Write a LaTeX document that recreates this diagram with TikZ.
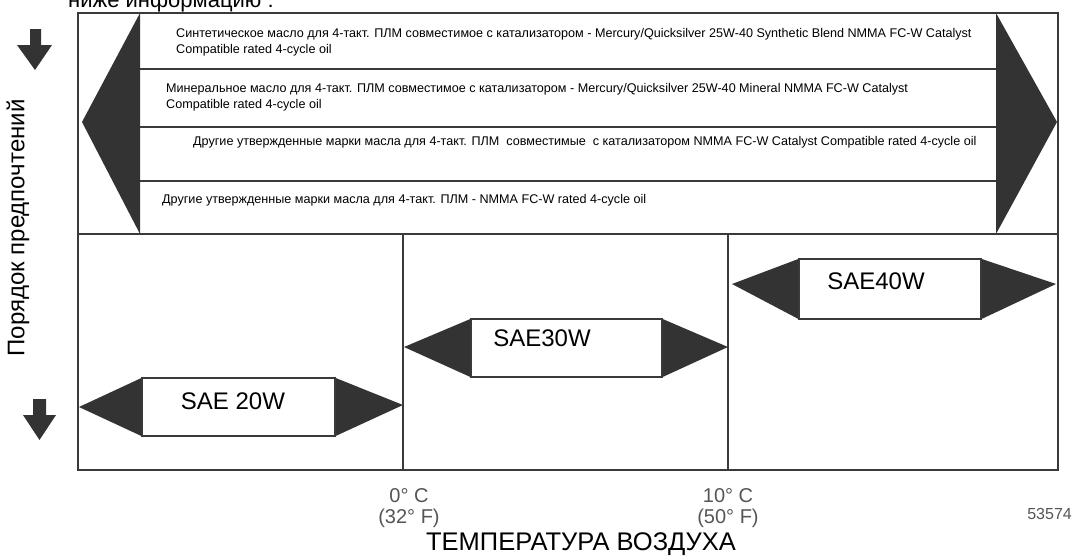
\documentclass[tikz,border=0pt]{standalone}
\usepackage{fontspec}
\setmainfont{Liberation Sans}
\usetikzlibrary{positioning}
\definecolor{inkgray}{HTML}{333333}
\definecolor{linegray}{HTML}{3A3A3A}
\definecolor{labelgray}{HTML}{555555}
\tikzset{
  frame/.style={draw=linegray, line width=2.4pt},
  rowline/.style={draw=linegray, line width=1.8pt},
  headfill/.style={fill=inkgray},
  saearea/.style={rectangle, inner sep=0pt},
  saeedge/.style={draw=linegray, line width=1.6pt, fill=white},
  saelabel/.style={font=\fontsize{24}{28}\selectfont, inner sep=0pt},
  oiltext/.style={font=\fontsize{12.6}{16}\selectfont, align=left, anchor=west, inner sep=0pt},
  templabel/.style={font=\fontsize{20}{21}\selectfont, text=labelgray, align=center, inner sep=0pt},
  axislabel/.style={font=\fontsize{24}{28}\selectfont, inner sep=0pt},
}

\begin{document}
\begin{tikzpicture}[x=1pt, y=-1pt]
\fill[white] (0,0) rectangle (1074,557);
\useasboundingbox (0,0) rectangle (1074,557);

%Heads
\fill[headfill] (140,13) -- (82,122) -- (140,234) -- cycle;
\fill[headfill] (996,13) -- (1057,122) -- (996,234) -- cycle;

%Lines
\foreach \y in {69,127,181}
  \draw[rowline] (140,\y) -- (996,\y);
\draw[frame] (78,13) rectangle (1058,470);
\draw[frame] (78,234) -- (1058,234);
\draw[rowline] (403,234) -- (403,470);
\draw[rowline] (728,234) -- (728,470);

%Oil grades
\node[oiltext] (synth) at (176,42.5) {Синтетическое масло для 4-такт. ПЛМ совместимое с катализатором - Mercury/Quicksilver 25W-40 Synthetic Blend NMMA FC-W Catalyst\\Compatible rated 4-cycle oil};
\node[oiltext] (mineral) at (166,97.5) {Минеральное масло для 4-такт. ПЛМ совместимое с катализатором - Mercury/Quicksilver 25W-40 Mineral NMMA FC-W Catalyst\\Compatible rated 4-cycle oil};
\node[oiltext] (othercat) at (193,142) {Другие утвержденные марки масла для 4-такт. ПЛМ\ \ совместимые\ \ с катализатором NMMA FC-W Catalyst Compatible rated 4-cycle oil};
\node[oiltext] (other) at (162,200) {Другие утвержденные марки масла для 4-такт. ПЛМ - NMMA FC-W rated 4-cycle oil};

%SAE 20W
\node[saearea, minimum width=193, minimum height=58] (sae20) at (238.5,407) {};
\fill[headfill] (79,407) -- (sae20.north west) -- (sae20.north east) -- (403,405)
  -- (sae20.south east) -- (sae20.south west) -- cycle;
\draw[saeedge] (sae20.north west) rectangle (sae20.south east);
\node[saelabel] (sae20txt) at (233,401) {SAE 20W};

%SAE30W
\node[saearea, minimum width=191, minimum height=58] (sae30) at (566.5,348) {};
\fill[headfill] (404,347) -- (sae30.north west) -- (sae30.north east) -- (728,347)
  -- (sae30.south east) -- (sae30.south west) -- cycle;
\draw[saeedge] (sae30.north west) rectangle (sae30.south east);
\node[saelabel] (sae30txt) at (542,338) {SAE30W};

%SAE40W
\node[saearea, minimum width=182, minimum height=60] (sae40) at (890,289) {};
\fill[headfill] (732,284) -- (sae40.north west) -- (sae40.north east) -- (1056,284)
  -- (sae40.south east) -- (sae40.south west) -- cycle;
\draw[saeedge] (sae40.north west) rectangle (sae40.south east);
\node[saelabel] (sae40txt) at (876,281) {SAE40W};

%Axis
\fill[headfill] (30,29) -- (41,29) -- (41,45) -- (52,45) -- (35,70) -- (17,45) -- (30,45) -- cycle;
\fill[headfill] (33,399) -- (46,399) -- (46,415) -- (56,415) -- (39.5,440) -- (23,415) -- (33,415) -- cycle;
\node[axislabel, rotate=90] (order) at (18,228) {Порядок предпочтений};
\node[templabel] (zero) at (409,508) {0° C\\(32° F)};
\node[templabel] (ten) at (728,508) {10° C\\(50° F)};
\node[axislabel, font=\fontsize{25.5}{28}\selectfont] (airtemp) at (581,544) {ТЕМПЕРАТУРА ВОЗДУХА};
\node[font=\fontsize{16}{18}\selectfont, text=labelgray, anchor=east, inner sep=0pt] (figno) at (1072,514) {53574};
\node[font=\fontsize{22}{26}\selectfont, anchor=base west, inner sep=0pt] (intro) at (68,7) {ниже информацию :};
\end{tikzpicture}
\end{document}
